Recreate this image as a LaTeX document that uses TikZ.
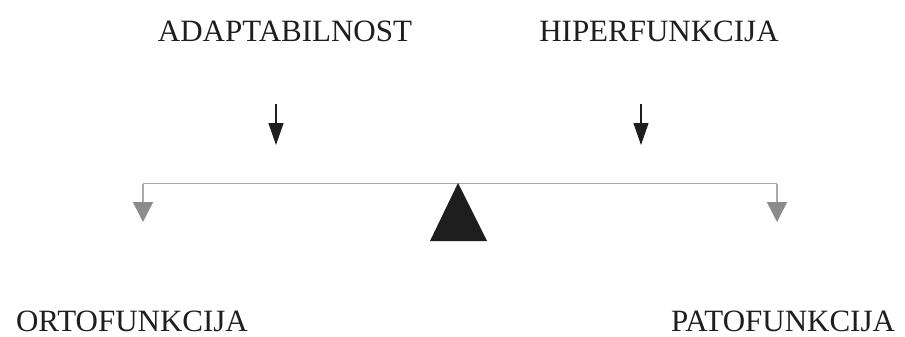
\documentclass[tikz,border=0pt]{standalone}
\usepackage{fontspec}
\setmainfont{Liberation Serif}
\usetikzlibrary{arrows.meta}
\definecolor{darkink}{HTML}{1E1E1E}
\definecolor{grayline}{HTML}{A8A8A8}
\definecolor{grayhead}{HTML}{8C8C8C}
\tikzset{
  label/.style={font=\fontsize{31}{36}\selectfont, inner sep=0pt, anchor=base, text=darkink},
  darkarrow/.style={draw=darkink, line width=1.2pt, -{Triangle[length=22pt,width=15pt,fill=darkink]}},
  grayarrow/.style={draw=grayline, line width=1.5pt, -{Triangle[length=20pt,width=20pt,fill=grayhead,color=grayhead]}},
  beam/.style={draw=grayline, line width=1.6pt}
}
\begin{document}
\begin{tikzpicture}[x=1pt,y=-1pt]
\useasboundingbox (0,0) rectangle (905,337);
\fill[white] (0,0) rectangle (905,337);
% labels
\node[label] (adapt) at (285,42) {ADAPTABILNOST};
\node[label] (hiper) at (659,42) {HIPERFUNKCIJA};
\node[label] (orto) at (132,331) {ORTOFUNKCIJA};
\node[label] (pato) at (783,331) {PATOFUNKCIJA};
% coordinates
\coordinate (a1s) at (276,104);
\coordinate (a1e) at (276,145);
\coordinate (a2s) at (641,104);
\coordinate (a2e) at (641,145);
\coordinate (bl) at (143,183.5);
\coordinate (br) at (777,183.5);
\coordinate (ble) at (143,222);
\coordinate (bre) at (777,222);
% down arrows
\draw[darkarrow] (a1s) -- (a1e);
\draw[darkarrow] (a2s) -- (a2e);
% beam
\draw[beam] (bl) -- (br);
\draw[grayarrow] (bl) -- (ble);
\draw[grayarrow] (br) -- (bre);
% fulcrum
\coordinate (apex) at (458,183);
\fill[darkink] (apex) -- (487,241) -- (430,241) -- cycle;
\end{tikzpicture}
\end{document}
